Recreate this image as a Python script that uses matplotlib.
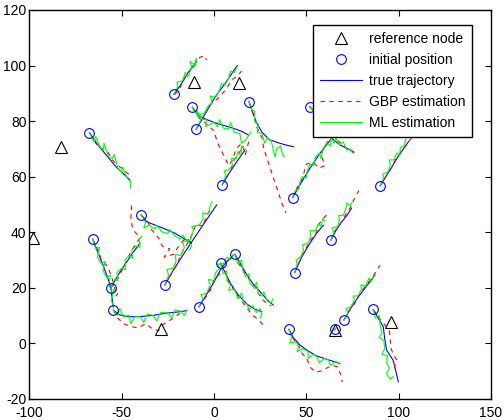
import matplotlib
matplotlib.use("Agg")
import matplotlib.pyplot as plt

plt.rcParams["font.family"] = ["Liberation Sans", "DejaVu Sans"]
plt.rcParams["font.size"] = 10
plt.rcParams["axes.unicode_minus"] = False

# reference (anchor) nodes
ref_x = [-82.7, -97.8, -11.0, 13.7, -28.9, 65.5, 95.7]
ref_y = [70.5, 38.0, 94.2, 93.8, 5.1, 4.7, 7.7]

# true trajectories, one list of (x, y) per node
true_paths = [
    [(-67.4, 75.8), (-63, 71.5), (-58, 67.5), (-53, 63.5), (-49, 61), (-45.5, 58.8)],
    [(-21.7, 89.6), (-18, 93), (-14, 97.5), (-9.4, 101.4)],
    [(-11.7, 85), (-7.6, 81.6), (-3, 80.3), (1.4, 79.2), (6, 78.3), (10.5, 77.4), (15, 76.3), (18.6, 75)],
    [(-9.7, 77), (-4, 83.5), (1, 89), (6, 93.5), (12.6, 100)],
    [(19, 87), (21, 83), (23, 79.5), (26, 76), (30, 73.3), (35.7, 72), (40, 71.2), (43, 70.8)],
    [(51.8, 85.2), (57, 82), (61, 77), (63.7, 73.8), (68, 71.5), (75.5, 69)],
    [(42.6, 52.4), (47, 57.5), (52, 63), (57, 68), (63.7, 73.8)],
    [(90, 56.7), (95, 62), (100, 67.5), (105.4, 72.6)],
    [(4.5, 57), (8, 61), (12, 65), (16.8, 69.6)],
    [(-26.6, 21), (-22, 26.3), (-17, 31.5), (-12, 36.5), (-6, 42.5), (1.5, 49.8)],
    [(-39.5, 46.2), (-36.4, 43.7), (-27.4, 41.4), (-21.1, 39.6), (-16.6, 37.8), (-12.1, 36)],
    [(-65.7, 37.5), (-63, 33), (-60, 28), (-57.5, 23.5), (-55.8, 20), (-55, 15.5), (-54.5, 13)],
    [(-55.8, 20), (-52, 24.5), (-48, 28.5), (-44, 32.5), (-40, 36)],
    [(-54.5, 12), (-51, 10.2), (-46, 9.5), (-40, 9.6), (-33, 10), (-26, 10.8), (-20, 11.2), (-14.8, 11.7)],
    [(-8.1, 13.1), (-4, 17.5), (0, 22), (3.6, 26.5), (7, 29.5), (10.5, 31.5)],
    [(3.6, 28.8), (6, 25.5), (9, 21.5), (13, 17.5), (18, 14), (22, 12.3), (26, 11.3)],
    [(11.4, 32), (14, 29), (17, 25.5), (21, 21.5), (25, 18.5), (29, 15.5), (32.1, 13.7)],
    [(40.6, 5), (43, 2), (46.6, -0.7), (51, -2.8), (55.6, -4.6), (62, -6), (68.2, -7.3)],
    [(70.4, 8.3), (74, 12.5), (78, 16.5), (82, 20), (87.2, 24.5)],
    [(86.2, 12.2), (89, 9), (91.7, 5.9), (92.5, 1.5), (93.5, -2.5), (97, -6.1), (98.5, -10), (99.8, -13.9)],
    [(63.4, 37.1), (66, 40.5), (69, 43.5), (72, 46), (74.5, 48.6)],
    [(43.7, 25.4), (47.5, 31), (51.5, 35.5), (55.5, 39.5), (59.3, 42.5)],
    [(65.5, 5.0), (65.6, 5.1)],
]

# GBP estimates
gbp_paths = [
    [(-67, 75.5), (-64, 72), (-61, 70), (-58, 69.5), (-55, 66), (-52, 64), (-49, 62.5), (-46.5, 61), (-44, 60)],
    [(-21.5, 89.5), (-19, 91), (-16, 95.5), (-13, 98), (-10, 101), (-7.5, 103), (-5, 103.5), (-4, 102)],
    [(-11.5, 84.5), (-8, 81), (-4, 79), (0, 76.5), (2, 72), (5, 68), (8, 64), (10, 66), (12, 70), (15, 72), (17, 68), (19, 73)],
    [(-9.7, 77), (-6, 81), (-2, 86), (2, 88), (6, 91), (10, 95), (13, 96.5), (15, 98)],
    [(19, 87), (21, 83), (23, 78), (26, 74), (27, 70), (29, 66), (31, 62), (33, 58), (35, 54), (37, 50), (39, 47)],
    [(51.8, 85.2), (55, 83), (58, 81), (62, 77), (64, 74), (68, 72.5), (72, 70), (76, 68.5)],
    [(42.6, 52.4), (45, 56), (48, 59.5), (50, 64.5), (54, 65), (57, 63), (60, 64), (58, 68), (61, 72), (64, 75)],
    [(90, 56.7), (93, 60), (96, 63), (99, 67), (102, 69.5), (105, 72), (107, 74), (109, 76)],
    [(4.5, 57), (7, 60), (9, 62), (11, 66), (13, 68), (15, 70)],
    [(-26.6, 21), (-23, 25), (-20, 28.5), (-17, 33), (-13, 37.5), (-9.5, 43), (-6, 42), (-4, 46), (-2, 48)],
    [(-39.5, 46.2), (-36, 44), (-34, 41), (-30, 38), (-28, 35), (-24, 34), (-27, 31), (-22, 32), (-18, 36), (-15, 38), (-12, 36)],
    [(-65.7, 37.5), (-63, 34), (-61, 30), (-58, 28), (-56, 25), (-54, 21), (-53, 17), (-52, 18)],
    [(-55.8, 20), (-53, 22), (-50, 26), (-47, 30), (-45, 33), (-42, 36), (-40, 38), (-44, 41), (-45, 45), (-44.5, 50)],
    [(-54.5, 12), (-52, 9), (-49, 7), (-45, 6), (-41, 5.5), (-37, 7), (-33, 5), (-30, 4.5), (-27, 7), (-22, 9), (-18, 11)],
    [(-8.1, 13.1), (-5, 16), (-2, 19), (0, 22.5), (3, 25), (5, 28), (8, 30), (10, 31.5)],
    [(3.6, 28.8), (6, 26), (8, 22), (11, 19), (14, 16), (18, 12.5), (21, 10), (24, 8.5), (26, 7), (28.5, 6.5)],
    [(11.4, 32), (14, 28), (17, 25), (20, 22), (23, 19), (26, 16), (29, 14), (31, 13.5)],
    [(40.6, 5), (43, 1.5), (46, -1), (48, -4), (50, -5), (52, -8.5), (55, -10.5), (58, -10), (61, -9), (64, -8), (67, -8.5), (68.5, -11), (69.5, -14)],
    [(70.4, 8.3), (73, 11.5), (76, 14), (79, 18), (82, 20.5), (85, 23), (88, 26), (90, 28)],
    [(86.2, 12.2), (89, 9.5), (92, 7), (95, 4.5), (95.5, 1), (96, -2), (97, -4), (99, -6), (98, -8), (97.5, -10)],
    [(63.4, 37.1), (65, 40), (68, 42.5), (71, 46), (74, 49), (76, 52), (78.5, 55)],
    [(43.7, 25.4), (46, 29), (49, 33), (52, 37), (55, 39), (57, 43), (60, 45.5), (62, 47)],
    [(65.5, 5.0), (65.6, 5.1)],
]

# ML estimates
ml_paths = [
    [(-67.4, 75.8), (-65, 72.5), (-64, 74.5), (-62, 71), (-60, 69.5), (-59.5, 72), (-57, 67), (-55, 66.5), (-54, 68),
     (-52, 63), (-50, 61.5), (-49.5, 63.5), (-47, 59.5), (-45, 58), (-45.2, 55.8)],
    [(-21.7, 89.6), (-19.5, 92.5), (-20, 94), (-17, 94.5), (-15.5, 97.5), (-14, 96), (-12, 99.5), (-13, 101.5),
     (-10, 100), (-9.5, 102.5), (-11, 99)],
    [(-11.7, 85), (-9, 82), (-9.5, 84), (-6, 80.5), (-4, 80.5), (-4.5, 78), (0, 79.5), (2, 78), (3, 80.5), (5, 77.5),
     (8, 77), (9, 79.5), (11, 76), (14, 75.5), (15, 72), (17, 73), (20, 76)],
    [(-9.7, 77), (-7, 80.5), (-8.5, 82), (-5, 83), (-3, 85.5), (-1, 86.5), (-2, 89), (1, 88.5), (3, 91), (4, 93.5),
     (6, 93), (8, 95.5), (9, 98), (11, 97.5), (12.5, 99.5)],
    [(19, 87), (20.5, 84), (22, 83.5), (22, 80), (24, 79), (23.5, 76), (26, 75.5), (27.5, 72), (29, 74), (31, 73),
     (32, 70), (33, 67), (34, 70), (36, 71), (37, 68.5), (38, 67)],
    [(51.8, 85.2), (54, 83.5), (56, 85), (58, 82), (60, 80), (62, 77), (63, 74.5), (65, 72), (66, 74), (68, 71.5),
     (70, 72.5), (72, 69.5), (74, 70), (75, 68.5)],
    [(42.6, 52.4), (44, 55), (46, 55.5), (46.5, 58), (48, 60), (50, 59.5), (50.5, 62), (52, 64.5), (54, 64), (55, 67),
     (57, 68.5), (58, 66.5), (59, 70), (61, 72), (63, 71), (63.5, 74)],
    [(90, 56.7), (92, 59.5), (91.5, 61), (94, 61.5), (95.5, 64), (95, 66), (97.5, 66), (99, 68.5), (100.5, 67.5),
     (101, 70.5), (103, 71), (104, 73.5)],
    [(4.5, 57), (6.5, 60.5), (5.5, 62), (8, 62.5), (10, 64), (9.5, 66.5), (12, 66.5), (13, 69), (14.5, 67.5), (15, 71),
     (16.5, 70)],
    [(-26.6, 21), (-24.5, 24.5), (-25.5, 26.5), (-22, 27), (-20.5, 29.5), (-21, 32), (-18, 31.5), (-16, 34.5),
     (-17, 36.5), (-13, 37), (-11, 40.5), (-12, 42), (-8, 42.5), (-6, 44.5), (-6, 47), (-3, 46.5), (-2, 49.5), (-1, 51)],
    [(-39.5, 46.2), (-37, 43.5), (-38, 41.5), (-35, 42.5), (-32, 41), (-31, 42.5), (-28, 40), (-25, 39.5), (-24, 41),
     (-21, 38.5), (-18, 37.5), (-17, 39), (-14, 36.5), (-12, 35), (-13.5, 33.5)],
    [(-65.7, 37.5), (-64, 34), (-62, 34.5), (-63, 31), (-61, 28.5), (-59, 29.5), (-60, 26), (-58, 23.5), (-56, 24.5),
     (-57, 21), (-55, 18), (-54, 19.5), (-55.5, 15.5), (-54.5, 13)],
    [(-55.8, 20), (-54, 23), (-52, 22.5), (-52.5, 25.5), (-50, 27), (-48, 26.5), (-48, 30), (-46, 31.5), (-44, 30.5),
     (-44.5, 33.5), (-42, 35), (-40, 34.5), (-40.5, 37.5), (-39, 38.5)],
    [(-54.5, 12), (-52, 10), (-51, 12.5), (-49, 9.5), (-46, 10), (-45, 7), (-43, 9.5), (-40, 9.5), (-38, 7.5),
     (-36, 10.5), (-33, 10), (-31, 8), (-29, 11), (-25, 11), (-23, 9), (-21, 12), (-18, 11.5), (-16, 10), (-14.5, 12)],
    [(-8.1, 13.1), (-6, 16), (-7, 17.5), (-4, 18), (-2, 21), (-3, 23), (0, 22.5), (1, 25.5), (3, 27), (2, 28.5),
     (5, 28.5), (7, 31), (9, 30), (10.5, 32)],
    [(3.6, 28.8), (5, 25), (7, 26), (7, 22.5), (9, 21), (8, 19), (11, 19.5), (13, 16), (15, 18), (16, 14.5), (18, 14),
     (19, 12), (21, 13.5), (23, 11), (25, 12.5), (26, 10.5), (25, 9)],
    [(11.4, 32), (13, 28.5), (15, 30), (15.5, 26.5), (17, 24), (19, 25), (19.5, 21.5), (22, 20), (23, 22), (24, 18),
     (26, 17), (27, 18.5), (29, 15), (31, 14.5), (32, 16)],
    [(40.6, 5), (42, 2), (41, 0), (44, 0.5), (46, -1), (45, -3), (48, -2), (51, -3), (51, -5.5), (54, -4), (56, -5),
     (57, -7), (60, -5.5), (62, -6), (63, -8), (66, -6.5), (68, -7.5)],
    [(70.4, 8.3), (72.5, 11), (71.5, 12.5), (74, 13), (76, 15.5), (75.5, 17), (78, 17), (80, 19.5), (79.5, 21),
     (82, 20.5), (84, 23.5), (85, 22), (87, 24.5)],
    [(86.2, 12.2), (87.5, 9), (89.5, 10), (90, 6.5), (91, 3.5), (89.5, 2), (92, 1), (92.5, -2), (91, -4), (94, -4.5),
     (93.5, -7), (95, -9), (93.5, -11), (95.5, -13), (97, -12)],
    [(63.4, 37.1), (65, 40), (64, 41.5), (67, 42), (68, 44.5), (67.5, 46), (70, 46), (71.5, 48.5), (72, 50.5),
     (74, 49.5), (75, 51)],
    [(43.7, 25.4), (45, 28.5), (44.5, 30), (47, 31), (48.5, 33.5), (48, 35.5), (51, 36), (52.5, 38.5), (52, 40.5),
     (55, 40.5), (56.5, 43), (58, 42), (59, 45), (60, 44)],
    [(65, 4.5), (66, 5.5)],
]


def xy(path):
    return [p[0] for p in path], [p[1] for p in path]


fig = plt.figure(figsize=(5.04, 4.2), dpi=100)
ax = fig.add_axes([0.0581, 0.0507, 0.916, 0.9255])

for i, path in enumerate(true_paths):
    x, y = xy(path)
    ax.plot(x, y, color="#0000ff", linewidth=0.8, label="true trajectory" if i == 0 else None, zorder=2)
for i, path in enumerate(gbp_paths):
    x, y = xy(path)
    ax.plot(x, y, color="#ff0000", linestyle=(0, (4, 4)), linewidth=0.8,
            label="GBP estimation" if i == 0 else None, zorder=3)
for i, path in enumerate(ml_paths):
    x, y = xy(path)
    ax.plot(x, y, color="#00ff00", linewidth=0.8, label="ML estimation" if i == 0 else None, zorder=4)

start_x = [p[0][0] for p in true_paths]
start_y = [p[0][1] for p in true_paths]
ax.plot(ref_x, ref_y, "^", mfc="none", mec="black", ms=8, mew=0.8, linestyle="none",
        label="reference node", zorder=5)
ax.plot(start_x, start_y, "o", mfc="none", mec="#0000ff", ms=7, mew=0.8, linestyle="none",
        label="initial position", zorder=5)

ax.set_xlim(-100, 150)
ax.set_ylim(-20, 120)
ax.set_xticks(range(-100, 151, 50))
ax.set_yticks(range(-20, 121, 20))
ax.tick_params(direction="in", top=True, right=True, length=4, width=0.8, labelsize=10)
ax.tick_params(axis="x", pad=5)
ax.tick_params(axis="y", pad=2)
for s in ax.spines.values():
    s.set_linewidth(1.0)

handles, labels = ax.get_legend_handles_labels()
order = ["reference node", "initial position", "true trajectory", "GBP estimation", "ML estimation"]
hmap = dict(zip(labels, handles))
leg = ax.legend([hmap[k] for k in order], order, loc="upper right", bbox_to_anchor=(0.959, 0.961),
                borderaxespad=0, fancybox=False, framealpha=1, edgecolor="black",
                handlelength=3.0, labelspacing=0.5, handletextpad=0.5, borderpad=0.5, fontsize=10)
leg.get_frame().set_linewidth(1.0)
leg.set_zorder(10)

fig.savefig("out.png", dpi=100)
